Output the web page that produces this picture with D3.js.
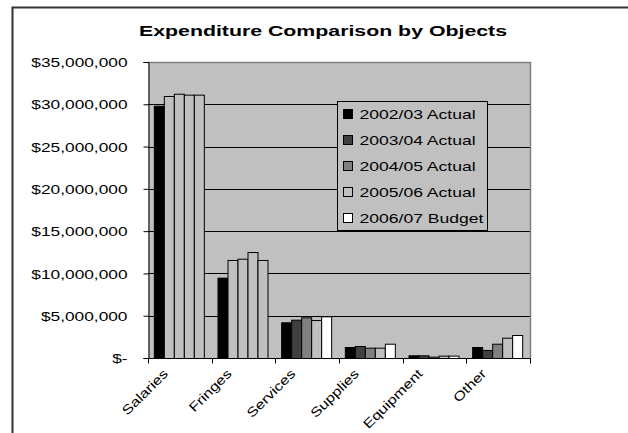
<!DOCTYPE html>
<html><head><meta charset="utf-8">
<script src="https://cdn.jsdelivr.net/npm/d3@7"></script>
<style>body{margin:0;background:#fff}svg{display:block}text{font-family:"Liberation Sans",Arial,sans-serif}</style>
</head><body>
<script>
const categories = ["Salaries","Fringes","Services","Supplies","Equipment","Other"];
const seriesNames = ["2002/03 Actual","2003/04 Actual","2004/05 Actual","2005/06 Actual","2006/07 Budget"];
const v0203 = [29.83e6, 9.50e6, 4.22e6, 1.30e6, 0.32e6, 1.30e6];
const v0304 = [30.98e6, 11.59e6, 4.53e6, 1.42e6, 0.32e6, 0.95e6];
const v0405 = [31.25e6, 11.74e6, 4.81e6, 1.22e6, 0.16e6, 1.69e6];
const v0506 = [31.14e6, 12.53e6, 4.49e6, 1.22e6, 0.28e6, 2.40e6];
const v0607 = [31.14e6, 11.59e6, 4.93e6, 1.69e6, 0.28e6, 2.72e6];
const seriesValues = [v0203, v0304, v0405, v0506, v0607];
const yTicks = [0, 5e6, 10e6, 15e6, 20e6, 25e6, 30e6, 35e6];
const yTickLabels = ["$-","$5,000,000","$10,000,000","$15,000,000","$20,000,000","$25,000,000","$30,000,000","$35,000,000"];
const title = "Expenditure Comparison by Objects";

const seriesColors = ["#000000","#404040","#808080","#c0c0c0","#ffffff"];
const plotBg = "#c0c0c0";
// categories where later series are drawn in the plot background colour
const plainCats = ["Salaries","Fringes"];

const W = 628, H = 433;
const L = 148, R = 530, T = 62, B = 358;

const svg = d3.select("body").append("svg").attr("width", W).attr("height", H);

// outer chart border (left + top only visible)
svg.append("path").attr("d", `M12.5,${H} V7.5 H${W}`).attr("fill","none").attr("stroke","#333").attr("stroke-width",2);

function stretch(sel, k){
  sel.each(function(){ const n=this; const w=n.getComputedTextLength(); d3.select(n).attr("textLength", w*k).attr("lengthAdjust","spacingAndGlyphs"); });
}
function fitTo(sel, target){
  sel.attr("textLength", target).attr("lengthAdjust","spacingAndGlyphs");
}

const x = d3.scaleBand().domain(categories).range([L, R]).paddingInner(0).paddingOuter(0);
const y = d3.scaleLinear().domain([0, 35e6]).range([B, T]);
const groupW = 50;
const xs = d3.scaleBand().domain(d3.range(seriesNames.length)).range([0, groupW]);

// plot background
svg.append("rect").attr("x", L).attr("y", T).attr("width", R-L).attr("height", B-T).attr("fill", plotBg);

// gridlines
svg.append("g").selectAll("line").data(yTicks.filter(t => t>0 && t<35e6)).join("line")
  .attr("x1", L).attr("x2", R).attr("y1", d => Math.round(y(d))+0.5).attr("y2", d => Math.round(y(d))+0.5)
  .attr("stroke", "#000").attr("stroke-width", 1);
// plot border top/right gray
svg.append("path").attr("d", `M${L},${T+0.5} H${R+0.5} V${B}`).attr("fill","none").attr("stroke","#808080").attr("stroke-width",1.5);

// bars
const g = svg.append("g");
seriesValues.forEach((vals, si) => {
  g.selectAll(null).data(categories.map((c,i)=>({c, v: vals[i]}))).join("rect")
    .attr("x", d => x(d.c) + (x.bandwidth()-groupW)/2 - 1 + xs(si) + 0.5)
    .attr("y", d => y(d.v) + 0.5)
    .attr("width", xs.bandwidth())
    .attr("height", d => B - y(d.v))
    .attr("fill", d => (si > 0 && plainCats.includes(d.c)) ? plotBg : seriesColors[si])
    .attr("stroke", "#000").attr("stroke-width", 1);
});

// y axis
const yAxis = svg.append("g").attr("transform", `translate(${L+0.5},0)`)
  .call(d3.axisLeft(y).tickValues(yTicks).tickSize(5).tickFormat((d,i)=>yTickLabels[i]));
yAxis.select(".domain").attr("stroke","#000");
yAxis.selectAll("line").attr("stroke","#000");
yAxis.selectAll("text").attr("font-size", 13).attr("fill","#000").attr("x", -21).attr("dy","0.36em")
  .attr("font-family","Liberation Sans");
yAxis.selectAll("text").call(stretch, 1.33);

// x axis
const xAxis = svg.append("g").attr("transform", `translate(0,${B+0.5})`);
xAxis.append("line").attr("x1", L).attr("x2", R+1).attr("stroke","#000");
xAxis.selectAll("line.tk").data(d3.range(categories.length+1)).join("line").attr("class","tk")
  .attr("x1", i => Math.round(L + i*x.bandwidth())+0.5).attr("x2", i => Math.round(L + i*x.bandwidth())+0.5)
  .attr("y1", 0).attr("y2", 5).attr("stroke","#000");
xAxis.selectAll("text").data(categories).join("text")
  .attr("transform", d => `translate(${x(d)+x.bandwidth()/2-11},${16}) rotate(-45)`)
  .attr("text-anchor","end").attr("font-size", 13).attr("fill","#000").text(d=>d)
  .call(stretch, 1.25);

// title
svg.append("text").attr("x", 139).attr("y", 36).attr("font-size", 15.5).attr("font-weight","bold")
  .attr("fill","#000").text(title).call(fitTo, 368);

// legend
const lg = svg.append("g").attr("transform","translate(337.5,101.5)");
lg.append("rect").attr("width",150).attr("height",129).attr("fill",plotBg).attr("stroke","#000");
const items = lg.selectAll("g").data(seriesNames).join("g").attr("transform",(d,i)=>`translate(6,${8+i*26})`);
items.append("rect").attr("width",9).attr("height",9).attr("fill",(d,i)=>seriesColors[i]).attr("stroke","#000");
items.append("text").attr("x",16).attr("y",9.5).attr("font-size",13.5).attr("fill","#000").text(d=>d).call(stretch, 1.3);
</script>
</body></html>
